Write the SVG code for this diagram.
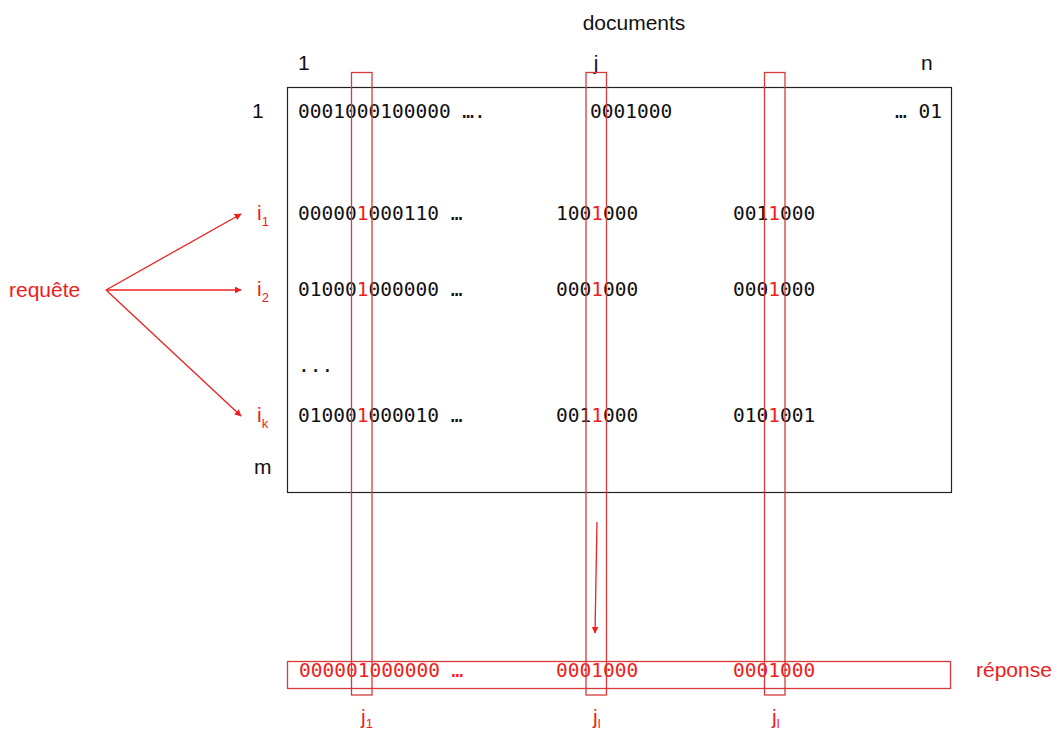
<svg xmlns="http://www.w3.org/2000/svg" width="1055" height="731" viewBox="0 0 1055 731">
<defs>
<style>
.lbl{font-family:"Liberation Sans",Arial,sans-serif;font-size:21px;fill:#111}
.rl{font-family:"Liberation Sans",Arial,sans-serif;font-size:21px;fill:#f02020}
.sub{font-size:13px}
.mono{font-family:"DejaVu Sans Mono",monospace;font-size:19.5px;fill:#111}
.rm{fill:#f02020}
.box{fill:none;stroke:#d83a3a;stroke-width:1.3}
.conn{stroke:#f02020;stroke-width:1.3;fill:none}
</style>
<marker id="ah" viewBox="0 0 10 10" refX="9" refY="5" markerWidth="7" markerHeight="7" orient="auto" markerUnits="userSpaceOnUse">
<path d="M0,0 L10,5 L0,10 z" fill="#f02020"/>
</marker>
</defs>
<rect width="1055" height="731" fill="#fff"/>

<g id="matrix">
<rect x="287.5" y="87.5" width="664" height="405" fill="none" stroke="#222" stroke-width="1.2"/>
</g>

<g id="headers">
<text class="lbl" x="634" y="30" text-anchor="middle">documents</text>
<text class="lbl" x="298" y="70">1</text>
<text class="lbl" x="596" y="70" text-anchor="middle">j</text>
<text class="lbl" x="921" y="70">n</text>
<text class="lbl" x="252" y="118">1</text>
<text class="lbl" x="254" y="474">m</text>
</g>

<g id="row-1">
<text class="mono" x="298" y="118">0001000100000 ….</text>
<text class="mono" x="590" y="118">0001000</text>
<text class="mono" x="942" y="118" text-anchor="end">… 01</text>
</g>

<g id="row-i1">
<text class="rl" x="257" y="220">i<tspan class="sub" dy="6">1</tspan></text>
<text class="mono" x="298" y="220">00000<tspan class="rm">1</tspan>000110 …</text>
<text class="mono" x="556" y="220">100<tspan class="rm">1</tspan>000</text>
<text class="mono" x="733" y="220">001<tspan class="rm">1</tspan>000</text>
</g>

<g id="row-i2">
<text class="rl" x="257" y="296">i<tspan class="sub" dy="6">2</tspan></text>
<text class="mono" x="298" y="296">01000<tspan class="rm">1</tspan>000000 …</text>
<text class="mono" x="556" y="296">000<tspan class="rm">1</tspan>000</text>
<text class="mono" x="733" y="296">000<tspan class="rm">1</tspan>000</text>
</g>

<g id="row-dots">
<text class="mono" x="298" y="372">...</text>
</g>

<g id="row-ik">
<text class="rl" x="257" y="422">i<tspan class="sub" dy="6">k</tspan></text>
<text class="mono" x="298" y="422">01000<tspan class="rm">1</tspan>000010 …</text>
<text class="mono" x="556" y="422">001<tspan class="rm">1</tspan>000</text>
<text class="mono" x="733" y="422">010<tspan class="rm">1</tspan>001</text>
</g>

<g id="response">
<rect class="box" x="287.5" y="661.5" width="663" height="27"/>
<text class="mono rm" x="299" y="677">000001000000 …</text>
<text class="mono rm" x="556" y="677">0001000</text>
<text class="mono rm" x="733" y="677">0001000</text>
<text class="rl" x="976" y="677">réponse</text>
</g>

<g id="columns">
<rect class="box" x="351.5" y="72.5" width="20.5" height="622.5"/>
<rect class="box" x="586" y="72.5" width="20.5" height="622.5"/>
<rect class="box" x="764.5" y="72.5" width="20.5" height="622.5"/>
<text class="rl" x="361" y="724">j<tspan class="sub" dy="4">1</tspan></text>
<text class="rl" x="593" y="724">j<tspan class="sub" dy="4">l</tspan></text>
<text class="rl" x="772" y="724">j<tspan class="sub" dy="4">l</tspan></text>
</g>

<g id="query">
<text class="rl" x="9" y="297">requête</text>
</g>

<g id="connectors">
<line class="conn" x1="106" y1="290" x2="241" y2="214" marker-end="url(#ah)"/>
<line class="conn" x1="106" y1="290" x2="241" y2="290" marker-end="url(#ah)"/>
<line class="conn" x1="106" y1="290" x2="241" y2="416" marker-end="url(#ah)"/>
<line class="conn" x1="597" y1="522" x2="595" y2="633" marker-end="url(#ah)"/>
</g>
</svg>
